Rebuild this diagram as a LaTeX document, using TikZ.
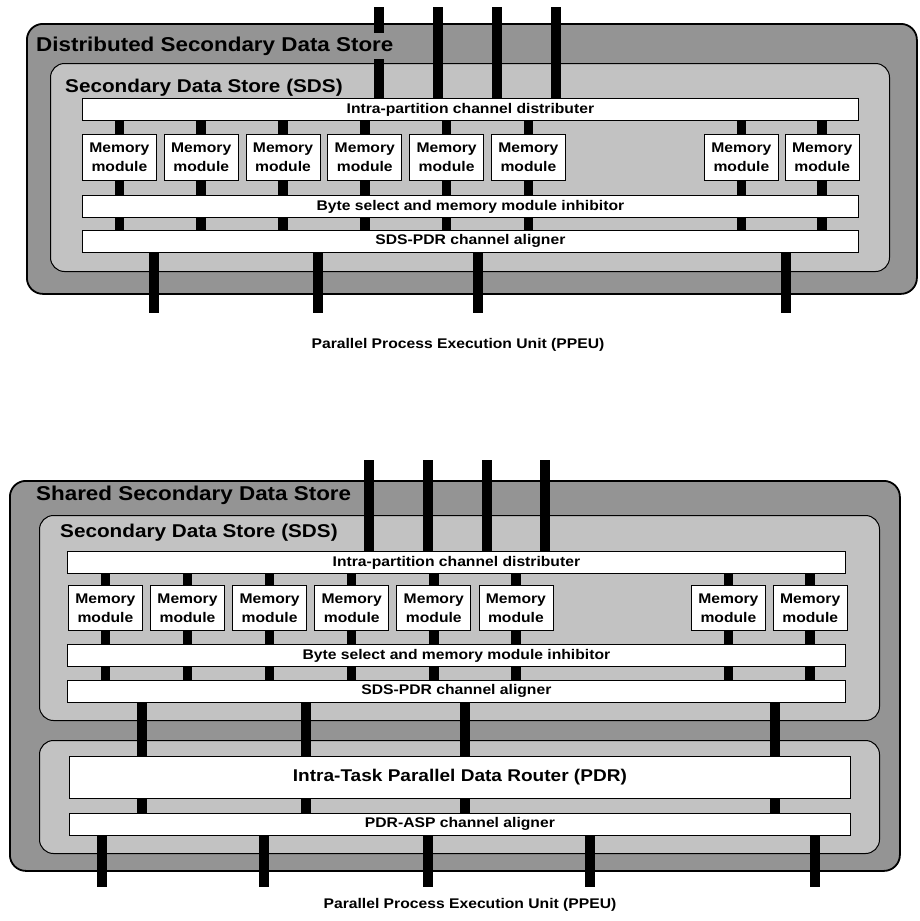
\documentclass[tikz,border=0pt]{standalone}
\usepackage{fontspec}
\setmainfont{Liberation Sans}[FakeStretch=1.12]
\usetikzlibrary{positioning}
\definecolor{storegray}{gray}{0.58}
\definecolor{sdsgray}{gray}{0.76}

\begin{document}
\begin{tikzpicture}[
  x=1pt,
  y=-1pt,
  node distance=7pt and 7pt,
  storebox/.style={draw, line width=1.8pt, rounded corners=16pt, fill=storegray, anchor=north west, inner sep=0pt},
  sdsbox/.style={draw, line width=1pt, rounded corners=14pt, fill=sdsgray, anchor=north west, inner sep=0pt},
  chanbar/.style={draw, line width=0.8pt, fill=white, anchor=north west, inner sep=0pt, minimum height=22pt, font=\bfseries\fontsize{14}{16}\selectfont},
  memmod/.style={draw, line width=0.8pt, fill=white, inner sep=0pt, minimum width=74pt, minimum height=46pt, align=center, font=\bfseries\fontsize{14}{19}\selectfont},
  boxtitle/.style={anchor=base west, inner sep=4pt, fill=storegray, font=\bfseries\fontsize{20}{24}\selectfont},
  sdstitle/.style={anchor=base west, inner sep=4pt, font=\bfseries\fontsize{18.5}{22}\selectfont},
  bus/.style={line width=9.5pt},
  ppeu/.style={font=\bfseries\fontsize{14}{16}\selectfont}
]
\useasboundingbox (0,0) rectangle (919,921);

% distributed store
\node[storebox, minimum width=890pt, minimum height=270pt] (dsds) at (26,23) {};
\node[sdsbox, minimum width=839pt, minimum height=208pt] (sdsa) at (50,63) {};
\node[chanbar, minimum width=776pt] (dista) at (82,98) {Intra-partition channel distributer};
\node[memmod, anchor=north west] (ma1) at (82,134) {Memory\\module};
\node[memmod, right=of ma1] (ma2) {Memory\\module};
\node[memmod, right=of ma2] (ma3) {Memory\\module};
\node[memmod, right=of ma3] (ma4) {Memory\\module};
\node[memmod, right=of ma4] (ma5) {Memory\\module};
\node[memmod, right=of ma5] (ma6) {Memory\\module};
\node[memmod, anchor=north west] (ma7) at (704,134) {Memory\\module};
\node[memmod, right=6pt of ma7] (ma8) {Memory\\module};
\node[chanbar, minimum width=776pt] (bytea) at (82,195) {Byte select and memory module inhibitor};
\node[chanbar, minimum width=776pt] (aligna) at (82,230) {SDS-PDR channel aligner};

\foreach \m in {ma1,ma2,ma3,ma4,ma5,ma6,ma7,ma8} {
  \draw[bus] (\m.north) -- (\m.north |- dista.south);
  \draw[bus] (\m.south) -- (\m.south |- bytea.north);
  \draw[bus] (\m.south |- bytea.south) -- (\m.south |- aligna.north);
}
\foreach \x [count=\i] in {379,438,497,556} {
  \coordinate (ina\i) at (\x,7);
  \draw[bus] (ina\i) -- (ina\i |- dista.north);
}
\foreach \x [count=\i] in {154,318,478,786} {
  \coordinate (outa\i) at (\x,313);
  \draw[bus] (outa\i |- aligna.south) -- (outa\i);
}

\node[boxtitle] (dsdstitle) at (32,51) {Distributed Secondary Data Store};
\node[sdstitle] (sdsatitle) at (61,92) {Secondary Data Store (SDS)};
\node[ppeu] (ppeua) at (458,345) {Parallel Process Execution Unit (PPEU)};

% shared store
\node[storebox, minimum width=890pt, minimum height=390pt] (ssds) at (9,480) {};
\node[sdsbox, minimum width=840pt, minimum height=205pt] (sdsb) at (39,515) {};
\node[sdsbox, minimum width=840pt, minimum height=113pt] (pdrbox) at (39,740) {};
\node[chanbar, minimum width=778pt] (distb) at (67,551) {Intra-partition channel distributer};
\node[memmod, anchor=north west, minimum height=45pt] (mb1) at (68,585) {Memory\\module};
\node[memmod, right=7.3pt of mb1, minimum height=45pt] (mb2) {Memory\\module};
\node[memmod, right=7.3pt of mb2, minimum height=45pt] (mb3) {Memory\\module};
\node[memmod, right=7.3pt of mb3, minimum height=45pt] (mb4) {Memory\\module};
\node[memmod, right=7.3pt of mb4, minimum height=45pt] (mb5) {Memory\\module};
\node[memmod, right=7.3pt of mb5, minimum height=45pt] (mb6) {Memory\\module};
\node[memmod, anchor=north west, minimum height=45pt] (mb7) at (691,585) {Memory\\module};
\node[memmod, right=7pt of mb7, minimum height=45pt] (mb8) {Memory\\module};
\node[chanbar, minimum width=778pt] (byteb) at (67,644) {Byte select and memory module inhibitor};
\node[chanbar, minimum width=778pt] (alignb) at (67,680) {SDS-PDR channel aligner};
\node[chanbar, minimum width=781pt, minimum height=42pt, font=\bfseries\fontsize{17}{20}\selectfont] (router) at (69,756) {Intra-Task Parallel Data Router (PDR)};
\node[chanbar, minimum width=781pt] (asp) at (69,813) {PDR-ASP channel aligner};

\foreach \m in {mb1,mb2,mb3,mb4,mb5,mb6,mb7,mb8} {
  \draw[bus] (\m.north) -- (\m.north |- distb.south);
  \draw[bus] (\m.south) -- (\m.south |- byteb.north);
  \draw[bus] (\m.south |- byteb.south) -- (\m.south |- alignb.north);
}
\foreach \x [count=\i] in {369,428,487,545} {
  \coordinate (inb\i) at (\x,460);
  \draw[bus] (inb\i) -- (inb\i |- distb.north);
}
\foreach \x [count=\i] in {142,306,465,775} {
  \coordinate (gb\i) at (\x,730);
  \draw[bus] (gb\i |- alignb.south) -- (gb\i |- router.north);
  \draw[bus] (gb\i |- router.south) -- (gb\i |- asp.north);
}
\foreach \x [count=\i] in {102,264,428,590,815} {
  \coordinate (outb\i) at (\x,887);
  \draw[bus] (outb\i |- asp.south) -- (outb\i);
}

\node[boxtitle] (ssdstitle) at (32,500) {Shared Secondary Data Store};
\node[sdstitle] (sdsbtitle) at (56,537) {Secondary Data Store (SDS)};
\node[ppeu] (ppeub) at (470,905) {Parallel Process Execution Unit (PPEU)};

\end{tikzpicture}
\end{document}
